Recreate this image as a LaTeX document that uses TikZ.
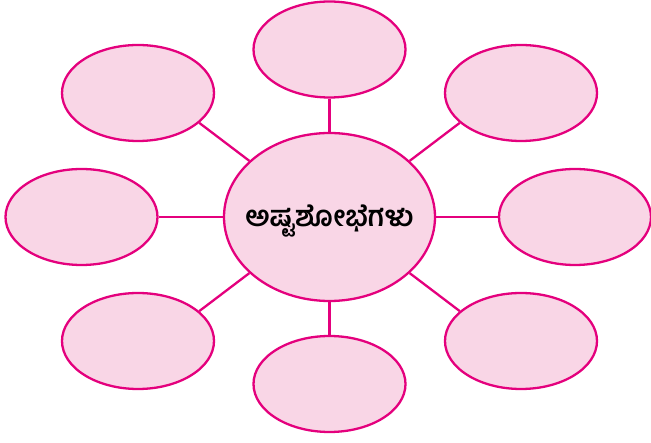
\documentclass[tikz,border=0pt]{standalone}
\usepackage{fontspec}
\newfontfamily\kannada[Script=Kannada]{Hind Mysuru}
\usetikzlibrary{shapes.geometric}
\definecolor{rim}{RGB}{228,0,125}
\definecolor{pinkfill}{RGB}{249,214,230}
\tikzset{
  petal/.style={ellipse, draw=rim, fill=pinkfill, line width=2.3pt, inner sep=0pt, minimum width=152pt, minimum height=96pt},
  hub/.style={ellipse, draw=rim, fill=pinkfill, line width=2.3pt, inner sep=0pt, minimum width=211pt, minimum height=168pt},
  link/.style={draw=rim, line width=2.3pt}
}
\begin{document}
\begin{tikzpicture}[x=1pt,y=-1pt]
\useasboundingbox (0,0) rectangle (651,443);
\node[hub] (c) at (329.5,217) {};
\node[petal] (t) at (329.5,49.5) {};
\node[petal] (b) at (329.5,384) {};
\node[petal] (tl) at (138,93) {};
\node[petal] (tr) at (521,93) {};
\node[petal] (l) at (81.5,217) {};
\node[petal] (r) at (575,217) {};
\node[petal] (bl) at (138,341) {};
\node[petal] (br) at (521,341) {};
\node[font={\kannada\bfseries\fontsize{28.5}{32}\selectfont}, text=black] (txt) at (329.5,221) {ಅಷ್ಟಶೋಭೆಗಳು};
\draw[link] (c.north) -- (t.south);
\draw[link] (c.south) -- (b.north);
\draw[link] (c.west) -- (l.east);
\draw[link] (c.east) -- (r.west);
\draw[link] (c.145) -- (tl.-26);
\draw[link] (c.35) -- (tr.206);
\draw[link] (c.215) -- (bl.26);
\draw[link] (c.-35) -- (br.154);
\end{tikzpicture}
\end{document}
